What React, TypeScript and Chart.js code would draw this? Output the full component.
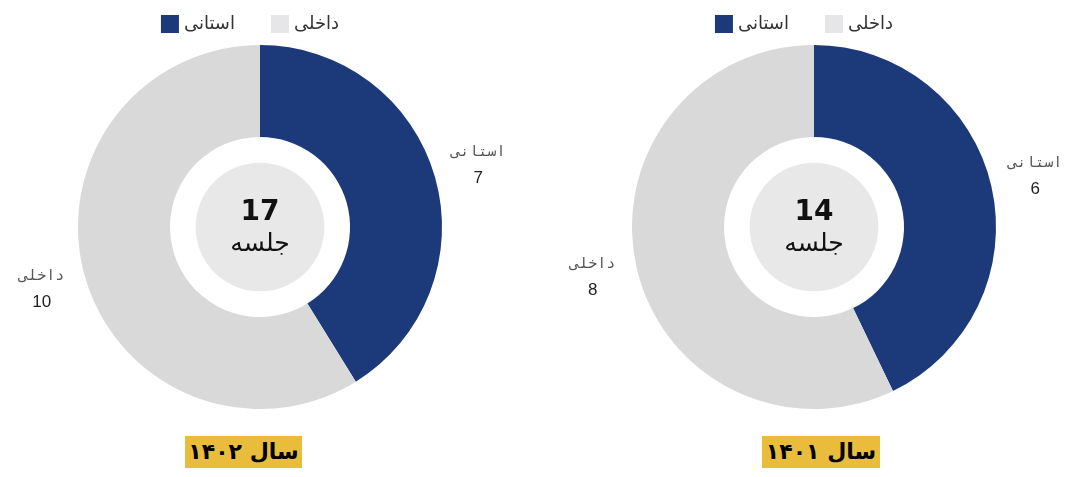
import { useEffect, useRef } from 'react';
import { Chart, registerables } from 'chart.js';

Chart.register(...registerables);

const categories = ['استانی', 'داخلی'];
const values1402 = [7, 10];
const values1401 = [6, 8];
const yearLabels = ['سال ۱۴۰۲', 'سال ۱۴۰۱'];
const centerUnit = 'جلسه';
const sliceColors = ['#1c3a7a', '#d9d9d9'];
const legendColors = ['#1c3a7a', '#e6e6e8'];

const decorPlugin = {
  id: 'decor',
  afterDatasetsDraw(chart: any) {
    const ctx = chart.ctx as CanvasRenderingContext2D;
    const meta = chart.getDatasetMeta(0);
    const data: number[] = chart.data.datasets[0].data;
    const first = meta.data[0].getProps(['x', 'y', 'innerRadius', 'outerRadius'], true);
    const { x, y, innerRadius, outerRadius } = first;
    ctx.save();
    // center grey disc
    ctx.beginPath();
    ctx.arc(x, y, innerRadius * 0.715, 0, Math.PI * 2);
    ctx.fillStyle = '#e8e8e8';
    ctx.fill();
    const total = data.reduce((a, b) => a + b, 0);
    ctx.fillStyle = '#111';
    ctx.textAlign = 'center';
    ctx.textBaseline = 'middle';
    ctx.font = 'bold 28px "DejaVu Sans", sans-serif';
    ctx.fillText(String(total), x, y - 14);
    ctx.font = '25px "DejaVu Sans", sans-serif';
    ctx.fillText(centerUnit, x, y + 17);

    // outside labels
    meta.data.forEach((arc: any, i: number) => {
      const p = arc.getProps(['startAngle', 'endAngle'], true);
      const mid = (p.startAngle + p.endAngle) / 2;
      const r = outerRadius + 45;
      const lx = x + Math.cos(mid) * r;
      const ly = y + Math.sin(mid) * r;
      ctx.fillStyle = '#555';
      ctx.font = '15px "DejaVu Sans Mono", monospace';
      (ctx as any).letterSpacing = '2px';
      ctx.fillText(categories[i], lx, ly - 13);
      (ctx as any).letterSpacing = '0px';
      ctx.fillStyle = '#222';
      ctx.font = '17px "Liberation Sans", sans-serif';
      ctx.fillText(String(data[i]), lx, ly + 13);
    });

    // legend
    ctx.font = '18px "Liberation Sans", "DejaVu Sans", sans-serif';
    ctx.textAlign = 'left';
    const box = 18;
    const gapBoxText = 5;
    const itemGap = 36;
    const widths = categories.map((c) => box + gapBoxText + ctx.measureText(c).width);
    const totalW = widths.reduce((a, b) => a + b, 0) + itemGap * (categories.length - 1);
    let lx = x - totalW / 2 - 10;
    const legendY = 24;
    categories.forEach((c, i) => {
      ctx.fillStyle = legendColors[i];
      ctx.fillRect(lx, legendY - box / 2, box, box);
      ctx.fillStyle = '#333';
      ctx.fillText(c, lx + box + gapBoxText, legendY);
      lx += widths[i] + itemGap;
    });
    ctx.restore();
  },
};

function DoughnutChart({ values, left, width, padL, padR }: { values: number[]; left: number; width: number; padL: number; padR: number }) {
  const ref = useRef<HTMLCanvasElement>(null);
  useEffect(() => {
    if (!ref.current) return;
    const chart = new Chart(ref.current, {
      type: 'doughnut',
      data: {
        labels: categories,
        datasets: [
          {
            data: values,
            backgroundColor: sliceColors,
            borderWidth: 0,
          },
        ],
      },
      options: {
        responsive: false,
        maintainAspectRatio: false,
        animation: false,
        radius: 182,
        cutout: 91,
        layout: { padding: { top: 43, bottom: 9, left: padL, right: padR } },
        plugins: {
          legend: { display: false },
          tooltip: { enabled: false },
        },
      } as any,
      plugins: [decorPlugin],
    });
    return () => chart.destroy();
  }, [values, padL, padR]);
  return (
    <canvas
      ref={ref}
      width={width}
      height={420}
      style={{ position: 'absolute', left, top: 0, width, height: 420 }}
    />
  );
}

const yearBoxStyle: any = {
  position: 'absolute',
  top: 436,
  height: 32,
  lineHeight: '32px',
  background: '#e9bd3b',
  color: '#000',
  fontFamily: '"DejaVu Sans", sans-serif',
  fontWeight: 'bold',
  fontSize: 22,
  textAlign: 'center',
  direction: 'rtl',
  whiteSpace: 'nowrap',
};

export default function App() {
  return (
    <div style={{ position: 'absolute', left: 0, top: 0, width: 1068, height: 477, overflow: 'hidden', background: '#fff' }}>
      <DoughnutChart values={values1402} left={8} width={520} padL={0} padR={16} />
      <DoughnutChart values={values1401} left={550} width={518} padL={10} padR={0} />
      <div style={{ ...yearBoxStyle, left: 185, width: 117 }}>{yearLabels[0]}</div>
      <div style={{ ...yearBoxStyle, left: 762, width: 118 }}>{yearLabels[1]}</div>
    </div>
  );
}
